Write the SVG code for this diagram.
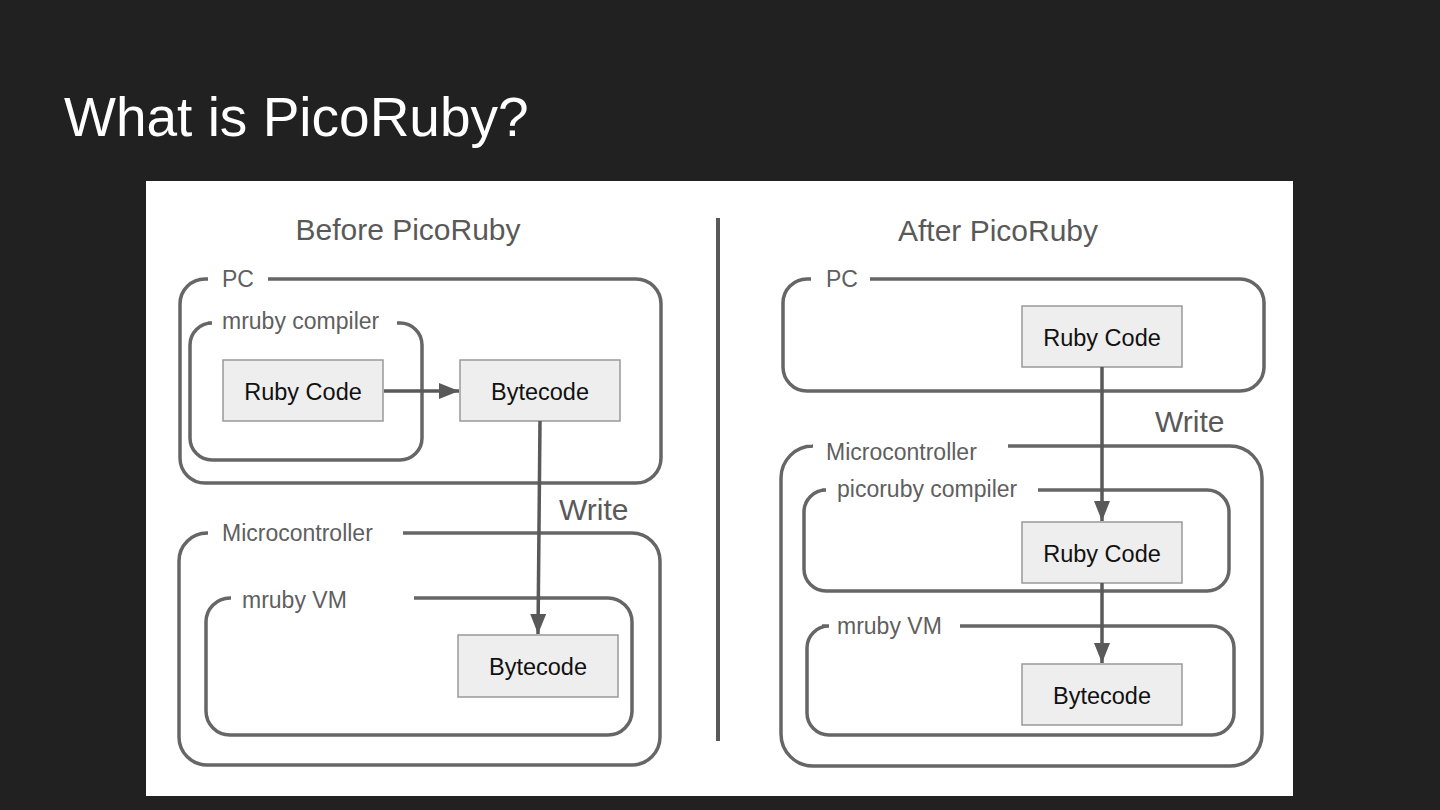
<svg xmlns="http://www.w3.org/2000/svg" width="1440" height="810" viewBox="0 0 1440 810">
<defs>
<marker id="ah" viewBox="0 0 20 16" refX="20" refY="8" markerWidth="20" markerHeight="16" markerUnits="userSpaceOnUse" orient="auto">
<path d="M0,0 L20,8 L0,16 z" fill="#595959"/>
</marker>
<style>
.cont{fill:none;stroke:#666;stroke-width:3.5}
.lbl{font-family:"Liberation Sans",Arial,sans-serif;font-size:23px;fill:#5f5f5f}
.box{fill:#eeeeee;stroke:#999;stroke-width:1.5}
.bt{font-family:"Liberation Sans",Arial,sans-serif;font-size:23.5px;fill:#111;text-anchor:middle}
.hd{font-family:"Liberation Sans",Arial,sans-serif;font-size:30px;fill:#595959;text-anchor:middle}
.wr{font-family:"Liberation Sans",Arial,sans-serif;font-size:30px;fill:#595959}
.conn{stroke:#595959;stroke-width:3.5;fill:none}
</style>
</defs>
<rect width="1440" height="810" fill="#212121"/>
<text x="64" y="136" font-family="Liberation Sans, Arial, sans-serif" font-size="55" fill="#ffffff">What is PicoRuby?</text>
<rect x="146" y="181" width="1147" height="615" fill="#ffffff"/>

<text class="hd" x="408" y="240">Before PicoRuby</text>
<text class="hd" x="998" y="241">After PicoRuby</text>
<line x1="718" y1="218" x2="718" y2="741" stroke="#595959" stroke-width="4"/>

<g id="before-pc">
<path class="cont" d="M268 279 H636 A25 25 0 0 1 661 304 V458 A25 25 0 0 1 636 483 H205 A25 25 0 0 1 180 458 V304 A25 25 0 0 1 205 279 H208"/>
<text class="lbl" x="222" y="287">PC</text>
</g>
<g id="before-compiler">
<path class="cont" d="M397 323 H400 A22 22 0 0 1 422 345 V438 A22 22 0 0 1 400 460 H212 A22 22 0 0 1 190 438 V345 A22 22 0 0 1 212 323 H208"/>
<text class="lbl" x="222" y="329">mruby compiler</text>
</g>
<g id="before-ruby">
<rect class="box" x="223" y="360" width="160" height="61"/>
<text class="bt" x="303" y="400">Ruby Code</text>
</g>
<g id="before-bytecode1">
<rect class="box" x="460" y="360" width="160" height="61"/>
<text class="bt" x="540" y="400">Bytecode</text>
</g>
<g id="before-mcu">
<path class="cont" d="M403 533 H632 A28 28 0 0 1 660 561 V737 A28 28 0 0 1 632 765 H207 A28 28 0 0 1 179 737 V561 A28 28 0 0 1 207 533 H208"/>
<text class="lbl" x="222" y="541">Microcontroller</text>
</g>
<g id="before-vm">
<path class="cont" d="M414 598 H608 A24 24 0 0 1 632 622 V711 A24 24 0 0 1 608 735 H230 A24 24 0 0 1 206 711 V622 A24 24 0 0 1 230 598 H231"/>
<text class="lbl" x="242" y="608">mruby VM</text>
</g>
<g id="before-bytecode2">
<rect class="box" x="458" y="635" width="160" height="62"/>
<text class="bt" x="538" y="675">Bytecode</text>
</g>
<text class="wr" x="559" y="520">Write</text>

<g id="after-pc">
<path class="cont" d="M870 279 H1240 A24 24 0 0 1 1264 303 V367 A24 24 0 0 1 1240 391 H807 A24 24 0 0 1 783 367 V303 A24 24 0 0 1 807 279 H811"/>
<text class="lbl" x="826" y="287">PC</text>
</g>
<g id="after-ruby1">
<rect class="box" x="1022" y="306" width="160" height="61"/>
<text class="bt" x="1102" y="346">Ruby Code</text>
</g>
<g id="after-mcu">
<path class="cont" d="M1008 446 H1230 A32 32 0 0 1 1262 478 V734 A32 32 0 0 1 1230 766 H813 A32 32 0 0 1 781 734 V478 A32 32 0 0 1 813 446 H812"/>
<text class="lbl" x="826" y="460">Microcontroller</text>
</g>
<g id="after-compiler">
<path class="cont" d="M1038 490 H1207 A22 22 0 0 1 1229 512 V569 A22 22 0 0 1 1207 591 H826 A22 22 0 0 1 804 569 V512 A22 22 0 0 1 826 490 H822"/>
<text class="lbl" x="837" y="497">picoruby compiler</text>
</g>
<g id="after-ruby2">
<rect class="box" x="1022" y="522" width="160" height="61"/>
<text class="bt" x="1102" y="562">Ruby Code</text>
</g>
<g id="after-vm">
<path class="cont" d="M960 626 H1212 A22 22 0 0 1 1234 648 V713 A22 22 0 0 1 1212 735 H829 A22 22 0 0 1 807 713 V648 A22 22 0 0 1 829 626 H822"/>
<text class="lbl" x="837" y="634">mruby VM</text>
</g>
<g id="after-bytecode">
<rect class="box" x="1022" y="664" width="160" height="61"/>
<text class="bt" x="1102" y="704">Bytecode</text>
</g>
<text class="wr" x="1155" y="432">Write</text>

<g id="connectors">
<line class="conn" x1="384" y1="391" x2="459" y2="391" marker-end="url(#ah)"/>
<line class="conn" x1="540" y1="421" x2="538" y2="634" marker-end="url(#ah)"/>
<line class="conn" x1="1102" y1="367" x2="1102" y2="521" marker-end="url(#ah)"/>
<line class="conn" x1="1102" y1="583" x2="1102" y2="663" marker-end="url(#ah)"/>
</g>
</svg>
